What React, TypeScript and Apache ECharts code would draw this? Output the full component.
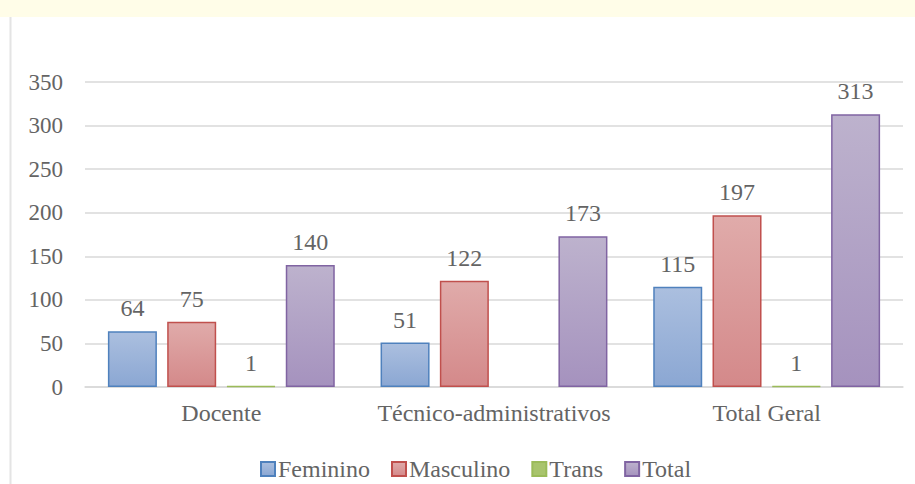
import React, { useEffect, useRef } from "react";
import * as echarts from "echarts";

const categories = ["Docente", "Técnico-administrativos", "Total Geral"];
const seriesNames = ["Feminino", "Masculino", "Trans", "Total"];
const feminino = [64, 51, 115];
const masculino = [75, 122, 197];
const trans: (number | null)[] = [1, null, 1];
const total = [140, 173, 313];
const yTicks = { min: 0, max: 350, interval: 50 };

const FONT = "'Times New Roman', Tinos, 'Liberation Serif', 'DejaVu Serif', serif";
const TEXT = "#646464";

function grad(top: string, bottom: string) {
  return new echarts.graphic.LinearGradient(0, 0, 0, 1, [
    { offset: 0, color: top },
    { offset: 1, color: bottom },
  ]);
}

export default function App() {
  const ref = useRef<HTMLDivElement>(null);
  useEffect(() => {
    if (!ref.current) return;
    const chart = echarts.init(ref.current, null, { renderer: "svg" });
    const styles = [
      { fill: grad("#abbfdf", "#8ba7d3"), border: "#4f81bd" },
      { fill: grad("#e0abaa", "#d4898a"), border: "#c0504d" },
      { fill: "#a8c46c", border: "#9bbb59" },
      { fill: grad("#bdb2cd", "#a592be"), border: "#8064a2" },
    ];
    const values = [feminino, masculino, trans, total];
    chart.setOption({
      animation: false,
      backgroundColor: "#ffffff",
      textStyle: { fontFamily: FONT },
      graphic: [
        { type: "rect", shape: { x: 0, y: 0, width: 915, height: 17 }, style: { fill: "#fffde8" }, silent: true },
        { type: "line", shape: { x1: 10.5, y1: 17, x2: 10.5, y2: 484 }, style: { stroke: "#e4e4e4", lineWidth: 2 }, silent: true },
      ],
      grid: { left: 85, right: 12, top: 82, bottom: 97, containLabel: false },
      legend: {
        data: seriesNames,
        left: 255,
        top: 452,
        itemWidth: 14,
        itemHeight: 14,
        itemGap: 21,
        icon: "rect",
        textStyle: { fontFamily: FONT, fontSize: 24, color: TEXT, padding: [0, 0, 0, -2] },
      },
      xAxis: {
        type: "category",
        data: categories,
        axisLine: { show: true, lineStyle: { color: "#d9d9d9", width: 1.5 } },
        axisTick: { show: false },
        axisLabel: { fontFamily: FONT, fontSize: 24, color: TEXT, margin: 14, interval: 0 },
      },
      yAxis: {
        type: "value",
        min: yTicks.min,
        max: yTicks.max,
        interval: yTicks.interval,
        axisLine: { show: false },
        axisTick: { show: false },
        splitLine: { lineStyle: { color: "#d9d9d9", width: 1.5 } },
        axisLabel: { fontFamily: FONT, fontSize: 23, color: TEXT, margin: 22 },
      },
      series: seriesNames.map((name, i) => ({
        name,
        type: "bar",
        data: values[i],
        barWidth: 49,
        barGap: "21%",
        itemStyle: { color: styles[i].fill, borderColor: styles[i].border, borderWidth: 1.5 },
        label: {
          show: true,
          position: "top",
          distance: 11,
          fontFamily: FONT,
          fontSize: 24,
          color: TEXT,
        },
      })),
    });
    return () => chart.dispose();
  }, []);
  return (
    <div
      ref={ref}
      style={{ position: "fixed", left: 0, top: 0, width: 915, height: 484 }}
    />
  );
}
